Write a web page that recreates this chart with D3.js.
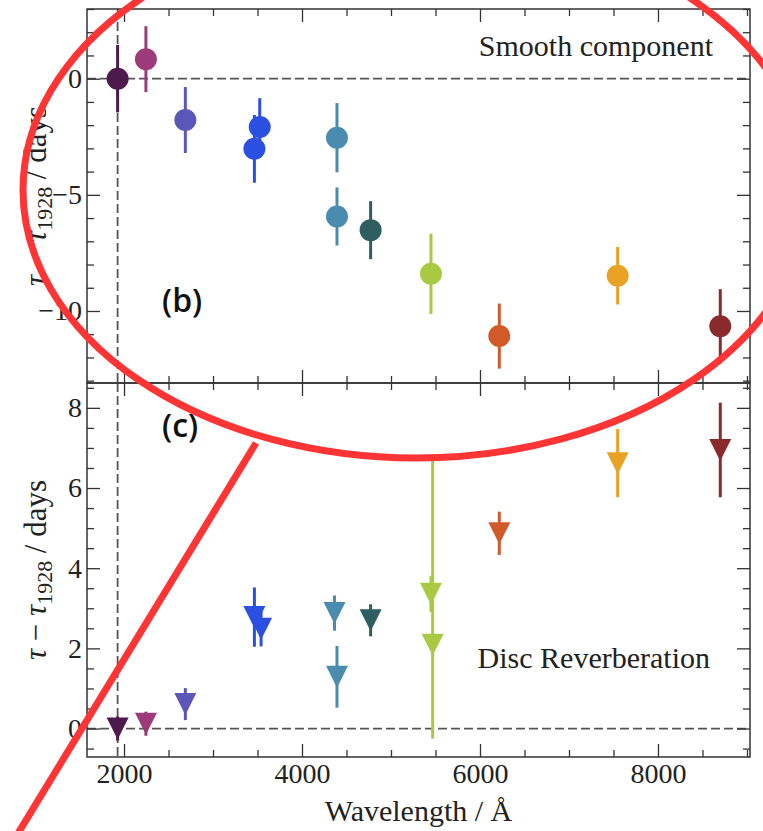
<!DOCTYPE html>
<html>
<head>
<meta charset="utf-8">
<script src="https://cdn.jsdelivr.net/npm/d3@7"></script>
<style>
  body { margin: 0; background: #fff; }
  svg { display: block; }
</style>
</head>
<body>
<svg id="chart"></svg>
<script>
// Values
const smoothWave  = [1928, 2246, 2689, 3465, 3525, 4393, 4393, 4771, 5449, 6217, 7547, 8700];
const smoothLag   = [0, 0.84, -1.78, -3.02, -2.08, -2.54, -5.93, -6.52, -8.40, -11.08, -8.48, -10.66];
const smoothErr   = [1.45, 1.42, 1.42, 1.46, 1.24, 1.49, 1.25, 1.25, 1.73, 1.40, 1.24, 1.60];
const smoothColor = ["#4e1a4e", "#9c3a7a", "#5b57b8", "#2b4fe0", "#2b4fe0", "#4a8bb0", "#4a8bb0",
                     "#2e5e60", "#a9c943", "#d05a2a", "#e8a324", "#8b2a2d"];

const discWave  = [1928, 2246, 2689, 3465, 3540, 4365, 4393, 4771, 5449, 5468, 6217, 7547, 8700];
const discLag   = [0, 0.12, 0.61, 2.78, 2.49, 2.88, 1.29, 2.70, 3.36, 2.09, 4.87, 6.62, 6.95];
const discErrLo = [0.3, 0.3, 0.40, 0.74, 0.44, 0.44, 0.77, 0.40, 0.45, 2.34, 0.54, 0.85, 1.18];
const discErrHi = [0.3, 0.3, 0.40, 0.74, 0.44, 0.44, 0.77, 0.40, 0.45, 4.75, 0.54, 0.85, 1.18];
const discColor = ["#4e1a4e", "#9c3a7a", "#5b57b8", "#2b4fe0", "#2b4fe0", "#4a8bb0", "#4a8bb0",
                   "#2e5e60", "#a9c943", "#a9c943", "#d05a2a", "#e8a324", "#8b2a2d"];

const refWave = 1928;
const xMajor = [2000, 4000, 6000, 8000];
const topMajor = [-10, -5, 0];
const botMajor = [0, 2, 4, 6, 8];

const W = 763, H = 831;
const left = 87, right = 750;
const topPanel = { y0: 9, y1: 383 };
const botPanel = { y0: 383, y1: 757 };

const svg = d3.select("#chart").attr("width", W).attr("height", H);

const x = d3.scaleLinear().domain([1584, 9034]).range([left, right]);
const yTop = d3.scaleLinear().domain([-13.1, 3.0]).range([topPanel.y1, topPanel.y0]);
const yBot = d3.scaleLinear().domain([-0.71, 8.62]).range([botPanel.y1, botPanel.y0]);

const serif = "'Liberation Serif', 'Times New Roman', serif";
const xMinor = d3.range(1500, 9100, 500).filter(v => v >= 1584 && v <= 9034 && !xMajor.includes(v));

// Draw one panel: frame, ticks, reference lines
function panel(p, y, major, minor, showX) {
  const g = svg.append("g");

  // reference dashed lines
  g.append("line")
    .attr("x1", left).attr("x2", right)
    .attr("y1", y(0)).attr("y2", y(0))
    .attr("stroke", "#555").attr("stroke-width", 1.8)
    .attr("stroke-dasharray", "9,4");
  g.append("line")
    .attr("x1", x(refWave)).attr("x2", x(refWave))
    .attr("y1", p.y0).attr("y2", p.y1)
    .attr("stroke", "#555").attr("stroke-width", 1.8)
    .attr("stroke-dasharray", "9,4");

  const fmt = d3.format("d");
  // bottom
  g.append("g").attr("transform", `translate(0,${p.y1})`)
    .call(d3.axisBottom(x).tickValues(xMajor).tickSize(-13).tickPadding(6)
      .tickFormat(showX ? fmt : ""));
  g.append("g").attr("transform", `translate(0,${p.y1})`)
    .call(d3.axisBottom(x).tickValues(xMinor).tickSize(-7).tickFormat(""));
  // top
  g.append("g").attr("transform", `translate(0,${p.y0})`)
    .call(d3.axisTop(x).tickValues(xMajor).tickSize(-13).tickFormat(""));
  g.append("g").attr("transform", `translate(0,${p.y0})`)
    .call(d3.axisTop(x).tickValues(xMinor).tickSize(-7).tickFormat(""));
  // left
  g.append("g").attr("transform", `translate(${left},0)`)
    .call(d3.axisLeft(y).tickValues(major).tickSize(-13).tickPadding(5).tickFormat(d3.format("d")));
  g.append("g").attr("transform", `translate(${left},0)`)
    .call(d3.axisLeft(y).tickValues(minor).tickSize(-7).tickFormat(""));
  // right
  g.append("g").attr("transform", `translate(${right},0)`)
    .call(d3.axisRight(y).tickValues(major).tickSize(-13).tickFormat(""));
  g.append("g").attr("transform", `translate(${right},0)`)
    .call(d3.axisRight(y).tickValues(minor).tickSize(-7).tickFormat(""));

  g.selectAll(".domain").remove();
  g.selectAll(".tick line").attr("stroke", "#333").attr("stroke-width", 1.3);
  g.selectAll(".tick text")
    .attr("font-family", serif).attr("font-size", 28).attr("fill", "#222");

  g.append("rect")
    .attr("x", left).attr("y", p.y0)
    .attr("width", right - left).attr("height", p.y1 - p.y0)
    .attr("fill", "none").attr("stroke", "#333").attr("stroke-width", 1.5);
  return g;
}

const topMinor = d3.range(-13, 4, 1).filter(v => !topMajor.includes(v));
const botMinor = d3.range(-0.5, 8.6, 0.5).filter(v => !botMajor.includes(v));

panel(topPanel, yTop, topMajor, topMinor, false);
panel(botPanel, yBot, botMajor, botMinor, true);

// Smooth component: circles with error bars
const sIdx = d3.range(smoothWave.length);
svg.append("g").selectAll("line")
  .data(sIdx).enter().append("line")
  .attr("x1", i => x(smoothWave[i])).attr("x2", i => x(smoothWave[i]))
  .attr("y1", i => yTop(smoothLag[i] - smoothErr[i]))
  .attr("y2", i => yTop(smoothLag[i] + smoothErr[i]))
  .attr("stroke", i => smoothColor[i]).attr("stroke-width", 3);
svg.append("g").selectAll("circle")
  .data(sIdx).enter().append("circle")
  .attr("cx", i => x(smoothWave[i]))
  .attr("cy", i => yTop(smoothLag[i]))
  .attr("r", 11)
  .attr("fill", i => smoothColor[i]);

// Disc reverberation: down triangles with error bars
const dIdx = d3.range(discWave.length);
svg.append("g").selectAll("line")
  .data(dIdx).enter().append("line")
  .attr("x1", i => x(discWave[i])).attr("x2", i => x(discWave[i]))
  .attr("y1", i => yBot(discLag[i] - discErrLo[i]))
  .attr("y2", i => yBot(discLag[i] + discErrHi[i]))
  .attr("stroke", i => discColor[i]).attr("stroke-width", 3);
svg.append("g").selectAll("path")
  .data(dIdx).enter().append("path")
  .attr("transform", i => `translate(${x(discWave[i])},${yBot(discLag[i])})`)
  .attr("d", "M-11,-11L11,-11L0,11Z")
  .attr("fill", i => discColor[i]);

// Panel texts
svg.append("text")
  .attr("x", 713).attr("y", 56)
  .attr("text-anchor", "end")
  .attr("font-family", serif).attr("font-size", 30).attr("fill", "#222")
  .text("Smooth component");
svg.append("text")
  .attr("x", 710).attr("y", 668)
  .attr("text-anchor", "end")
  .attr("font-family", serif).attr("font-size", 30).attr("fill", "#222")
  .text("Disc Reverberation");

svg.append("text")
  .attr("x", 162).attr("y", 312)
  .attr("font-family", "'Open Sans', sans-serif").attr("font-weight", 600)
  .attr("font-size", 32).attr("fill", "#111")
  .text("(b)");
svg.append("text")
  .attr("x", 162).attr("y", 437)
  .attr("font-family", "'Open Sans', sans-serif").attr("font-weight", 600)
  .attr("font-size", 32).attr("fill", "#111")
  .text("(c)");

// Axis labels
svg.append("text")
  .attr("x", (left + right) / 2).attr("y", 821)
  .attr("text-anchor", "middle")
  .attr("font-family", serif).attr("font-size", 30).attr("fill", "#222")
  .text("Wavelength / Å");

function yLabel(cy) {
  const t = svg.append("text")
    .attr("transform", `translate(46,${cy}) rotate(-90)`)
    .attr("text-anchor", "middle")
    .attr("font-family", serif).attr("font-size", 31).attr("fill", "#222");
  t.append("tspan").attr("font-style", "italic").text("τ");
  t.append("tspan").text(" − ");
  t.append("tspan").attr("font-style", "italic").text("τ");
  t.append("tspan").attr("font-size", 22).attr("dy", 6).text("1928");
  t.append("tspan").attr("dy", -6).text(" / days");
}
yLabel((topPanel.y0 + topPanel.y1) / 2);
yLabel((botPanel.y0 + botPanel.y1) / 2);

// Red hand-drawn annotation
svg.append("ellipse")
  .attr("cx", 416).attr("cy", 190).attr("rx", 393).attr("ry", 268)
  .attr("fill", "none").attr("stroke", "#ff3535").attr("stroke-width", 7);
svg.append("line")
  .attr("x1", 256).attr("y1", 443).attr("x2", 17).attr("y2", 835)
  .attr("stroke", "#ff3535").attr("stroke-width", 7);
</script>
</body>
</html>
